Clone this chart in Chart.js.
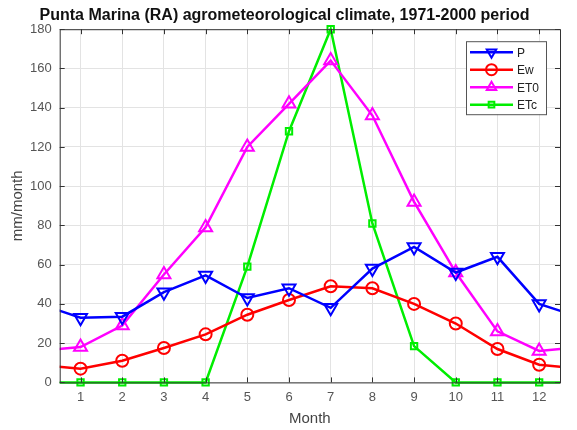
<!DOCTYPE html>
<html>
<head>
<meta charset="utf-8">
<script src="https://cdn.jsdelivr.net/npm/chart.js@4"></script>
<style>
  html, body { margin: 0; padding: 0; background: #fff; }
  #wrap { width: 577px; height: 430px; }
</style>
</head>
<body>
<div id="wrap"><canvas id="climateChart" width="577" height="430"></canvas></div>
<script>
// monthly values (mm/month)
const months = [1, 2, 3, 4, 5, 6, 7, 8, 9, 10, 11, 12];
const pValues = [33, 33.5, 46, 54.5, 43, 48, 38, 58, 69, 56, 64, 40];
const ewValues = [7, 11, 17.5, 24.5, 34.5, 42, 49, 48, 40, 30, 17, 9];
const et0Values = [18, 29, 55, 79, 120, 142, 164, 136, 92, 56, 26, 16];
const etcValues = [0, 0, 0, 0, 59, 128, 180, 81, 18.5, 0, 0, 0];
const yTicks = [0, 20, 40, 60, 80, 100, 120, 140, 160, 180];

const FONT = 'Liberation Sans, Arial, sans-serif';

// wrap the year around (Dec before Jan, Jan after Dec) so lines reach the axes edges
function cyclic(values) {
    const pts = months.map((m, i) => ({ x: m, y: values[i] }));
    pts.unshift({ x: 0, y: values[values.length - 1] });
    pts.push({ x: 13, y: values[0] });
    return pts;
}
function radii(r) {
    return [0].concat(months.map(() => r), [0]);
}

function series(label, values, color, style, r, rot) {
    return {
        label: label,
        data: cyclic(values),
        borderColor: color,
        backgroundColor: color,
        borderWidth: 2.5,
        pointStyle: style,
        pointRotation: rot || 0,
        pointRadius: radii(r),
        pointHoverRadius: radii(r),
        pointBorderWidth: 2,
        pointBackgroundColor: 'rgba(0,0,0,0)',
        pointBorderColor: color,
        tension: 0,
        clip: { left: 0, right: 0, top: false, bottom: false }
    };
}

// box around the axes with inward tick marks, like a matlab plot
const frame = {
    id: 'frame',
    afterDatasetsDraw(chart) {
        const a = chart.chartArea, ctx = chart.ctx;
        const xs = chart.scales.x, ys = chart.scales.y;
        ctx.save();
        ctx.strokeStyle = '#333';
        ctx.lineWidth = 1;
        ctx.strokeRect(a.left + 0.5, a.top + 0.5, a.right - a.left, a.bottom - a.top);
        ctx.beginPath();
        months.forEach(m => {
            const px = Math.round(xs.getPixelForValue(m)) + 0.5;
            ctx.moveTo(px, a.bottom); ctx.lineTo(px, a.bottom - 5);
            ctx.moveTo(px, a.top); ctx.lineTo(px, a.top + 5);
        });
        yTicks.forEach(v => {
            const py = Math.round(ys.getPixelForValue(v)) + 0.5;
            ctx.moveTo(a.left, py); ctx.lineTo(a.left + 5, py);
            ctx.moveTo(a.right, py); ctx.lineTo(a.right - 5, py);
        });
        ctx.stroke();
        ctx.restore();
    }
};

// legend box drawn inside the plot, top right
const insideLegend = {
    id: 'insideLegend',
    afterDraw(chart) {
        const a = chart.chartArea, ctx = chart.ctx;
        const w = 80, h = 73;
        const x0 = a.right - 14 - w, y0 = a.top + 12;
        ctx.save();
        ctx.fillStyle = '#fff';
        ctx.fillRect(x0, y0, w, h);
        ctx.strokeStyle = '#555';
        ctx.lineWidth = 1;
        ctx.strokeRect(x0 + 0.5, y0 + 0.5, w, h);
        chart.data.datasets.forEach((ds, i) => {
            const y = y0 + 11 + i * 17.5;
            ctx.strokeStyle = ds.borderColor;
            ctx.lineWidth = 2.5;
            ctx.beginPath();
            ctx.moveTo(x0 + 4, y);
            ctx.lineTo(x0 + 47, y);
            ctx.stroke();
            ctx.lineWidth = 2;
            ctx.fillStyle = 'rgba(0,0,0,0)';
            Chart.helpers.drawPoint(ctx, {
                pointStyle: ds.pointStyle,
                rotation: ds.pointRotation,
                radius: ds.pointStyle === 'rect' ? 4 : 5.5,
                borderWidth: 2
            }, x0 + 25.5, y);
            ctx.fillStyle = '#222';
            ctx.font = '12px ' + FONT;
            ctx.textBaseline = 'middle';
            ctx.fillText(ds.label, x0 + 51, y + 1);
        });
        ctx.restore();
    }
};

const ctx = document.getElementById('climateChart').getContext('2d');
new Chart(ctx, {
    type: 'line',
    data: {
        datasets: [
            series('P', pValues, '#0000ff', 'triangle', 7.5, 180),
            series('Ew', ewValues, '#ff0000', 'circle', 6),
            series('ET0', et0Values, '#ff00ff', 'triangle', 7.5),
            series('ETc', etcValues, '#00ee00', 'rect', 4.5)
        ]
    },
    options: {
        responsive: false,
        animation: false,
        layout: { padding: { left: 9, right: 17, top: 0, bottom: 2 } },
        plugins: {
            legend: { display: false },
            tooltip: { enabled: false },
            title: {
                display: true,
                text: 'Punta Marina (RA) agrometeorological climate, 1971-2000 period',
                color: '#111',
                font: { family: FONT, size: 16, weight: 'bold' },
                padding: { top: 6, bottom: 4 }
            }
        },
        scales: {
            x: {
                type: 'linear',
                min: 0.5,
                max: 12.5,
                afterBuildTicks(axis) { axis.ticks = months.map(v => ({ value: v })); },
                grid: { color: '#e3e3e3', drawTicks: false },
                border: { display: false },
                ticks: { color: '#555', font: { family: FONT, size: 13 }, padding: 7 },
                title: {
                    display: true, text: 'Month', color: '#444',
                    font: { family: FONT, size: 15 }, padding: { top: -2, bottom: 0 }
                }
            },
            y: {
                min: 0,
                max: 180,
                afterBuildTicks(axis) { axis.ticks = yTicks.map(v => ({ value: v })); },
                grid: { color: '#e3e3e3', drawTicks: false },
                border: { display: false },
                ticks: { color: '#555', font: { family: FONT, size: 13 }, padding: 8 },
                title: {
                    display: true, text: 'mm/month', color: '#444',
                    font: { family: FONT, size: 15 }, padding: { top: 0, bottom: -5 }
                }
            }
        }
    },
    plugins: [frame, insideLegend]
});
</script>
</body>
</html>
